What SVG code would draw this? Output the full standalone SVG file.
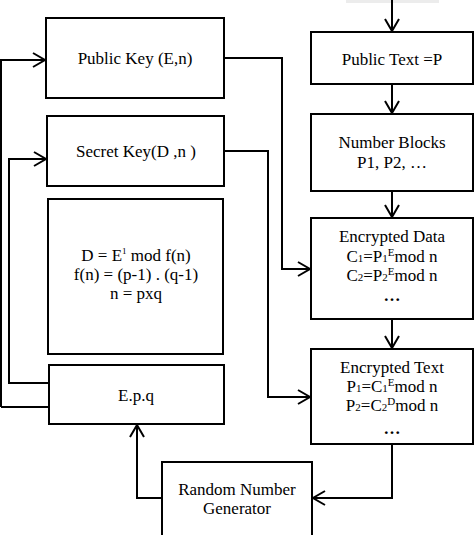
<svg xmlns="http://www.w3.org/2000/svg" width="474" height="535" viewBox="0 0 474 535">
<style>
.box{fill:#fff;stroke:#000;stroke-width:2}
.t{font-family:"Liberation Serif","Times New Roman",serif;font-size:17px;fill:#000;text-anchor:middle}
.c{fill:none;stroke:#000;stroke-width:2}
.s{font-size:11px}
</style>
<defs>
<marker id="ah" markerUnits="userSpaceOnUse" markerWidth="16" markerHeight="18" refX="13" refY="8" orient="auto">
<path d="M1,1 L13,8 L1,15" fill="none" stroke="#000" stroke-width="2"/>
</marker>
</defs>
<rect x="346" y="0" width="93" height="3" fill="#ececec"/>
<g id="connectors">
<path class="c" d="M392,0 L392,31" marker-end="url(#ah)"/>
<path class="c" d="M392,84 L392,113" marker-end="url(#ah)"/>
<path class="c" d="M392,191 L392,217" marker-end="url(#ah)"/>
<path class="c" d="M392,319 L392,348" marker-end="url(#ah)"/>
<path class="c" d="M392,444 L392,498 L313,498" marker-end="url(#ah)"/>
<path class="c" d="M162,498 L137,498 L137,425" marker-end="url(#ah)"/>
<path class="c" d="M49,383 L9,383 L9,159 L46,159" marker-end="url(#ah)"/>
<path class="c" d="M49,407 L1,407"/>
<path class="c" d="M1,407 L1,60" stroke="#999"/>
<path class="c" d="M0,60 L45,60" marker-end="url(#ah)"/>
<path class="c" d="M224,58 L282,58 L282,269 L310,269" marker-end="url(#ah)"/>
<path class="c" d="M224,151 L268,151 L268,397 L310,397" marker-end="url(#ah)"/>
</g>
<g id="public-key">
<rect class="box" x="46" y="18" width="178" height="80"/>
<text class="t" x="135" y="64">Public Key (E,n)</text>
</g>
<g id="secret-key">
<rect class="box" x="47" y="116" width="177" height="70"/>
<text class="t" x="136" y="157">Secret Key(D ,n )</text>
</g>
<g id="formulas">
<rect class="box" x="48" y="199" width="175" height="155"/>
<text class="t" x="136" y="261">D = E<tspan font-size="9" dy="-7">1</tspan><tspan dy="7"> mod f(n)</tspan></text>
<text class="t" x="136" y="280">f(n) = (p-1) . (q-1)</text>
<text class="t" x="136" y="299">n = pxq</text>
</g>
<g id="epq">
<rect class="box" x="49" y="365" width="175" height="59"/>
<text class="t" x="136" y="401">E.p.q</text>
</g>
<g id="random-generator">
<rect class="box" x="162" y="462" width="150" height="90"/>
<text class="t" x="237" y="495">Random Number</text>
<text class="t" x="237" y="514">Generator</text>
</g>
<g id="public-text">
<rect class="box" x="311" y="32" width="162" height="52"/>
<text class="t" x="392" y="65">Public Text =P</text>
</g>
<g id="number-blocks">
<rect class="box" x="311" y="114" width="162" height="77"/>
<text class="t" x="392" y="148">Number Blocks</text>
<text class="t" x="392" y="168">P1, P2, …</text>
</g>
<g id="encrypted-data">
<rect class="box" x="311" y="218" width="162" height="101"/>
<text class="t" x="392" y="242">Encrypted Data</text>
<text class="t" x="392" y="262">C<tspan class="s">1</tspan>=P<tspan class="s">1</tspan><tspan class="s" dy="-6">E</tspan><tspan dy="6">mod n</tspan></text>
<text class="t" x="392" y="281">C<tspan class="s">2</tspan>=P<tspan class="s">2</tspan><tspan class="s" dy="-6">E</tspan><tspan dy="6">mod n</tspan></text>
<text class="t" x="392" y="301" font-weight="bold">…</text>
</g>
<g id="encrypted-text">
<rect class="box" x="311" y="349" width="162" height="95"/>
<text class="t" x="392" y="373">Encrypted Text</text>
<text class="t" x="392" y="392">P<tspan class="s">1</tspan>=C<tspan class="s">1</tspan><tspan class="s" dy="-6">E</tspan><tspan dy="6">mod n</tspan></text>
<text class="t" x="392" y="411">P<tspan class="s">2</tspan>=C<tspan class="s">2</tspan><tspan class="s" dy="-6">D</tspan><tspan dy="6">mod n</tspan></text>
<text class="t" x="392" y="434" font-weight="bold">…</text>
</g>
</svg>
